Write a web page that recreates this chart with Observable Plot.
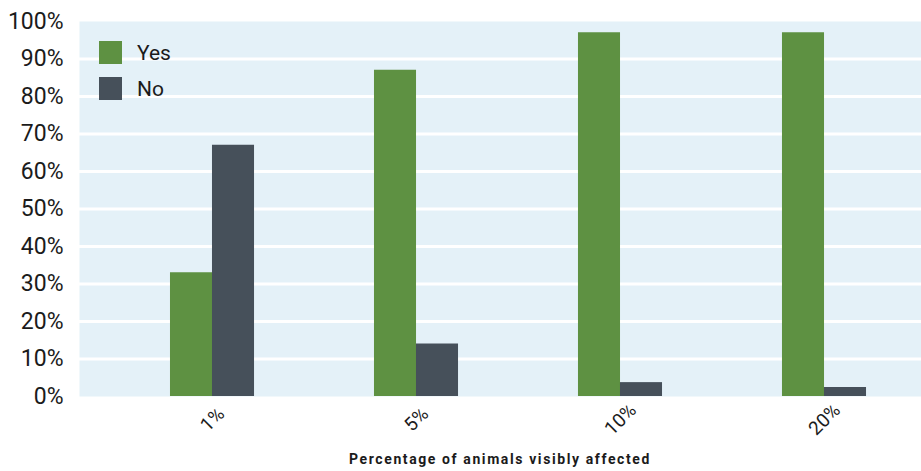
<!DOCTYPE html>
<html>
<head>
<meta charset="utf-8">
<script src="https://cdn.jsdelivr.net/npm/d3@7"></script>
<script src="https://cdn.jsdelivr.net/npm/@observablehq/plot@0.6"></script>
<style>
  html, body { margin: 0; padding: 0; background: #fff; }
  #wrap { position: relative; width: 921px; height: 471px; font-family: Roboto, "DejaVu Sans", sans-serif; color: #1b1b1b; }
  #legend { position: absolute; left: 99px; top: 41px; }
  .item { display: flex; align-items: center; height: 23px; margin-bottom: 13px; font-size: 21px; }
  .sw { width: 23px; height: 23px; margin-right: 15px; }
  #caption { padding-left: 79px; text-align: center; font-size: 14px; font-weight: bold; letter-spacing: 1.6px; height: 25px; line-height: 27px; }
</style>
</head>
<body>
<div id="wrap">
  <div id="chart"></div>
  <div id="legend"></div>
  <div id="caption"></div>
</div>
<script>
// Share of respondents answering Yes / No, by percentage of animals visibly affected
const categories = ["1%", "5%", "10%", "20%"];
const seriesNames = ["Yes", "No"];
const yesValues = [33, 87, 97, 97];
const noValues = [67, 14, 3.7, 2.4];
const yTicks = [0, 10, 20, 30, 40, 50, 60, 70, 80, 90, 100];
const gridTicks = [10, 20, 30, 40, 50, 60, 70, 80, 90];
const xTitle = "Percentage of animals visibly affected";

const colors = {Yes: "#5e9142", No: "#46505a"};
const rows = categories.map((c, i) => ({category: c, Yes: yesValues[i], No: noValues[i]}));

const chart = Plot.plot({
  width: 921,
  height: 446,
  marginLeft: 79,
  marginRight: 0,
  marginTop: 21,
  marginBottom: 50,
  style: {fontFamily: "Roboto, 'DejaVu Sans', sans-serif", color: "#1b1b1b", background: "#fff"},
  x: {domain: categories, range: [79, 957], paddingInner: 0.588, paddingOuter: 0.446, align: 0.5, round: false, axis: null},
  y: {domain: [0, 100], axis: null},
  marks: [
    Plot.frame({fill: "#e4f1f8", stroke: null}),
    Plot.gridY(gridTicks, {stroke: "#fff", strokeOpacity: 1, strokeWidth: 3}),
    Plot.axisY(yTicks, {tickSize: 0, tickPadding: 16, fontSize: 23, tickFormat: d => d + "%"}),
    Plot.barY(rows, {x: "category", y: "Yes", fill: colors.Yes, insetRight: 42}),
    Plot.barY(rows, {x: "category", y: "No", fill: colors.No, insetLeft: 42}),
    Plot.text(categories, {x: d => d, frameAnchor: "bottom", dy: 23, rotate: -45, textAnchor: "middle", lineAnchor: "middle", fontSize: 19, fill: "#1b1b1b"})
  ]
});
document.getElementById("chart").appendChild(chart);

const legend = document.getElementById("legend");
for (const name of seriesNames) {
  const item = document.createElement("div");
  item.className = "item";
  const sw = document.createElement("div");
  sw.className = "sw";
  sw.style.background = colors[name];
  const label = document.createElement("span");
  label.textContent = name;
  item.appendChild(sw);
  item.appendChild(label);
  legend.appendChild(item);
}
document.getElementById("caption").textContent = xTitle;
</script>
</body>
</html>
